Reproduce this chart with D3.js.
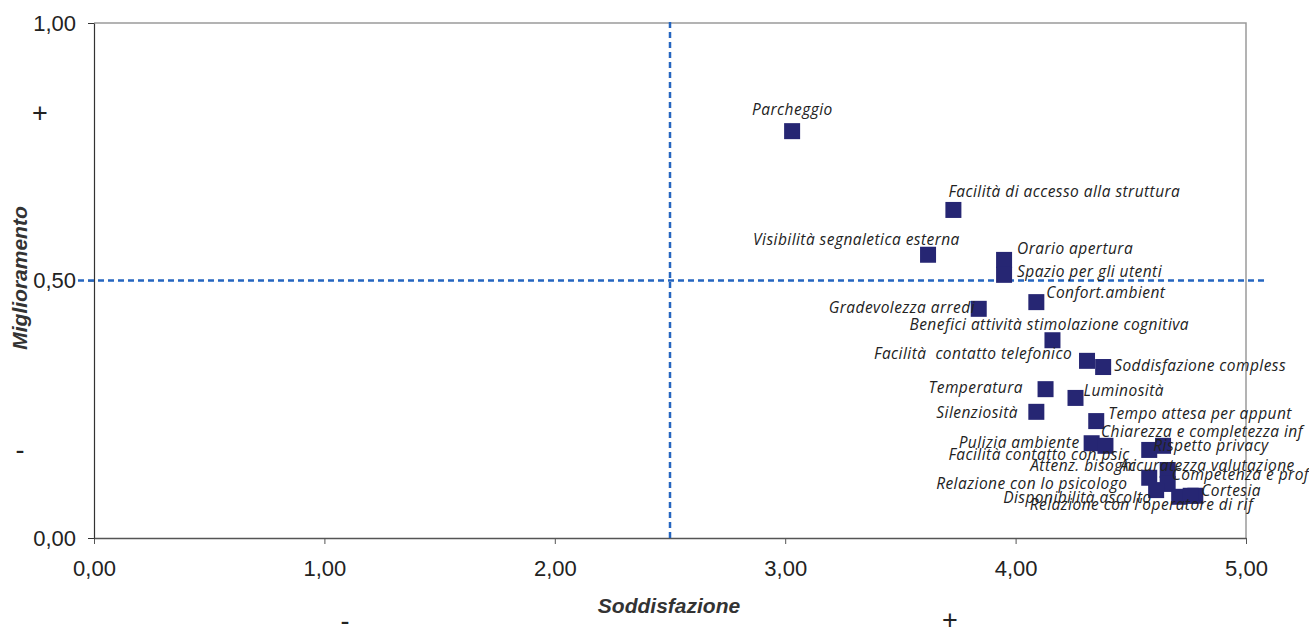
<!DOCTYPE html>
<html>
<head>
<meta charset="utf-8">
<script src="https://cdn.jsdelivr.net/npm/d3@7"></script>
<style>
  html, body { margin: 0; padding: 0; background: #fff; }
  svg { display: block; }
</style>
</head>
<body>
<svg id="chart" width="1309" height="628"></svg>
<script>
// Aspetti del servizio (etichette dei punti)
const labels = [
  "Parcheggio",
  "Facilità di accesso alla struttura",
  "Visibilità segnaletica esterna",
  "Orario apertura",
  "Spazio per gli utenti",
  "Gradevolezza arredi",
  "Confort.ambient",
  "Benefici attività stimolazione cognitiva",
  "Facilità  contatto telefonico",
  "Soddisfazione compless",
  "Temperatura",
  "Luminosità",
  "Silenziosità",
  "Tempo attesa per appunt",
  "Chiarezza e completezza inf",
  "Rispetto privacy",
  "Pulizia ambiente",
  "Facilità contatto con psic",
  "Attenz. bisogni",
  "Accuratezza valutazione",
  "Competenza e prof",
  "Relazione con lo psicologo",
  "Disponibilità ascolto",
  "Cortesia",
  "Relazione con l'operatore di rif"
];

// Soddisfazione (asse X)
const soddisfazione = [
  3.03, 3.73, 3.62, 3.95, 3.95, 3.84, 4.09, 4.16, 4.31, 4.38,
  4.13, 4.26, 4.09, 4.35, 4.64, 4.58, 4.33, 4.39, 4.58, 4.66,
  4.66, 4.61, 4.71, 4.78, 4.76
];

// Miglioramento (asse Y)
const miglioramento = [
  0.790, 0.637, 0.550, 0.540, 0.511, 0.445, 0.458, 0.384, 0.344, 0.332,
  0.289, 0.272, 0.245, 0.227, 0.179, 0.171, 0.184, 0.179, 0.117, 0.132,
  0.105, 0.093, 0.080, 0.082, 0.082
];

const xTicks = [0, 1, 2, 3, 4, 5];
const yTicks = [0, 0.5, 1];
const xThreshold = 2.5;
const yThreshold = 0.5;

// Posizionamento manuale delle etichette rispetto al punto (px)
const labelOffsets = [
  [-40, -16], [-5, -13], [-175, -10], [13, -6], [13, 2],
  [-150, 4], [10, -4], [-143, -10], [-213, -2], [11, 4],
  [-117, 4], [8, -2], [-100, 6], [12, -2], [-62, -9],
  [4, 1], [-133, 5], [-157, 14], [-119, -7], [-48, 1],
  [4, -4], [-220, -1], [-176, 6], [6, 0], [-161, 14]
];

const fmt = v => d3.format(".2f")(v).replace(".", ",");

const svg = d3.select("#chart");
const plotLeft = 94, plotRight = 1246, plotTop = 23, plotBottom = 538;
const axisFont = "Liberation Sans, Arial, sans-serif";

const x = d3.scaleLinear().domain([0, 5]).range([plotLeft, plotRight]);
const y = d3.scaleLinear().domain([0, 1]).range([plotBottom, plotTop]);

// Bordo dell'area del grafico (alto e destra)
svg.append("path")
  .attr("d", `M${plotLeft},${plotTop}H${plotRight}V${plotBottom}`)
  .attr("fill", "none")
  .attr("stroke", "#9a9a9a")
  .attr("stroke-width", 1.5);

// Asse X
const xAxis = svg.append("g")
  .attr("transform", `translate(0,${plotBottom})`)
  .call(d3.axisBottom(x).tickValues(xTicks).tickFormat(fmt).tickSize(6).tickSizeOuter(0));
xAxis.select(".domain").attr("stroke", "#555").attr("stroke-width", 1.5);
xAxis.selectAll(".tick line").attr("stroke", "#555");
xAxis.selectAll(".tick text")
  .attr("y", 38)
  .attr("dy", null)
  .attr("font-family", axisFont)
  .attr("font-size", 22)
  .attr("fill", "#222");

// Asse Y
const yAxis = svg.append("g")
  .attr("transform", `translate(${plotLeft},0)`)
  .call(d3.axisLeft(y).tickValues(yTicks).tickFormat(fmt).tickSize(6).tickSizeOuter(0));
yAxis.select(".domain").attr("stroke", "#333").attr("stroke-width", 1.2);
yAxis.selectAll(".tick line").attr("stroke", "#333");
yAxis.selectAll(".tick text")
  .attr("x", -18)
  .attr("font-family", axisFont)
  .attr("font-size", 22)
  .attr("fill", "#222");

// Linee di soglia tratteggiate
const dashColor = "#2566c0";
svg.append("line")
  .attr("x1", 78).attr("x2", 1266)
  .attr("y1", y(yThreshold)).attr("y2", y(yThreshold))
  .attr("stroke", dashColor).attr("stroke-width", 2.5)
  .attr("stroke-dasharray", "6,4");
svg.append("line")
  .attr("x1", x(xThreshold)).attr("x2", x(xThreshold))
  .attr("y1", plotTop - 1).attr("y2", plotBottom)
  .attr("stroke", dashColor).attr("stroke-width", 2.5)
  .attr("stroke-dasharray", "6,4");

// Titoli degli assi
svg.append("text")
  .attr("x", 669).attr("y", 613)
  .attr("text-anchor", "middle")
  .attr("font-family", axisFont)
  .attr("font-size", 21).attr("font-weight", "bold").attr("font-style", "italic")
  .attr("fill", "#333")
  .text("Soddisfazione");
svg.append("text")
  .attr("transform", `translate(27,278) rotate(-90)`)
  .attr("text-anchor", "middle")
  .attr("font-family", axisFont)
  .attr("font-size", 21).attr("font-weight", "bold").attr("font-style", "italic")
  .attr("fill", "#333")
  .text("Miglioramento");

// Segni + / -
const signStyle = s => s
  .attr("font-family", axisFont)
  .attr("font-size", 27)
  .attr("fill", "#222")
  .attr("text-anchor", "middle");
svg.append("text").attr("x", 40).attr("y", 122).text("+").call(signStyle);
svg.append("text").attr("x", 20).attr("y", 459).text("-").call(signStyle);
svg.append("text").attr("x", 345).attr("y", 630).text("-").call(signStyle);
svg.append("text").attr("x", 950).attr("y", 629).text("+").call(signStyle);

// Punti
const points = labels.map((name, i) => ({
  name, sx: soddisfazione[i], my: miglioramento[i], off: labelOffsets[i]
}));

const size = 16;
svg.append("g").selectAll("rect")
  .data(points)
  .join("rect")
  .attr("x", d => x(d.sx) - size / 2)
  .attr("y", d => y(d.my) - size / 2)
  .attr("width", size).attr("height", size)
  .attr("fill", "#262673");

// Etichette dei punti
svg.append("g").selectAll("text")
  .data(points)
  .join("text")
  .attr("x", d => x(d.sx) + d.off[0])
  .attr("y", d => y(d.my) + d.off[1])
  .attr("font-family", "Open Sans, sans-serif")
  .attr("font-style", "italic")
  .attr("font-size", 15.5)
  .attr("letter-spacing", 0.45)
  .attr("fill", "#222")
  .style("white-space", "pre")
  .text(d => d.name);
</script>
</body>
</html>
